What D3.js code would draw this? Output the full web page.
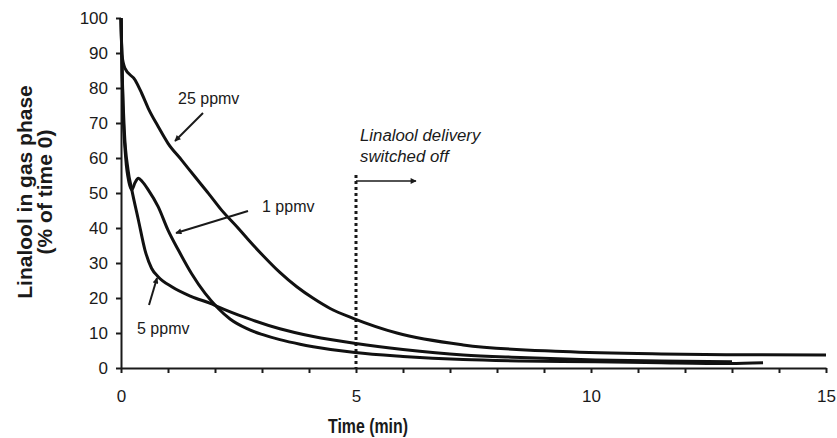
<!DOCTYPE html>
<html lang="en">
	<head>
		<meta charset="utf-8">
		<title>Linalool in gas phase</title>
		<script type="text/javascript" src="https://cdn.jsdelivr.net/npm/d3@7"></script>
		<style type="text/css">
			body { margin: 0; background: white; }
			text { font-family: "Liberation Sans", Arial, sans-serif; fill: #1a1a1a; }
			.tick text { font-size: 17px; }
			.axis path, .axis line { stroke: #1a1a1a; stroke-width: 2px; }
			.title { font-weight: bold; font-size: 21px; }
			.note { font-size: 16px; }
		</style>
	</head>
	<body>
		<div id="chart"></div>
		<script type="text/javascript">
			//Data: time (min) and % of time 0
			var t1  = [0, 0.04, 0.1, 0.17, 0.23, 0.3, 0.37, 0.45, 0.58, 0.79, 1.0, 1.22, 1.5, 1.79, 2.07, 2.32, 2.67, 3.0, 3.38, 3.81, 4.09, 4.98, 6, 7.28, 8.5, 10.1, 11.5, 12.96, 13.66];
			var v1  = [100, 75, 60, 53, 50.9, 53, 54.2, 53.3, 50.9, 46.1, 39.4, 33.7, 27, 21.3, 17.0, 14.0, 11.3, 9.6, 8.1, 6.8, 6.1, 4.4, 3.3, 2.4, 2.0, 1.8, 1.5, 1.3, 1.5];

			var t5  = [0, 0.03, 0.07, 0.15, 0.23, 0.37, 0.51, 0.65, 0.79, 1.08, 1.5, 1.93, 2.03, 2.67, 3.38, 4.09, 5.0, 6, 7.28, 8.5, 10.1, 11.5, 13.0];
			var v5  = [100, 82, 68, 56.6, 50.9, 42.3, 33.7, 28.5, 26.1, 23.2, 20.4, 18.3, 17.7, 14.3, 11.2, 9.0, 7.0, 5.3, 3.7, 3.0, 2.3, 2.0, 1.8];

			var t25 = [0, 0.02, 0.085, 0.3, 0.44, 0.58, 0.79, 1.0, 1.29, 1.57, 1.86, 2.14, 2.49, 2.7, 3.03, 3.38, 3.74, 4.09, 4.45, 4.94, 5.87, 7.28, 9.4, 11.5, 13, 15];
			var v25 = [100, 89.5, 85.6, 82.3, 78.5, 74.2, 69, 64.2, 59.4, 54.7, 49.9, 45.1, 40.0, 36.8, 32, 27.3, 23.2, 19.9, 17, 14.2, 10, 6.6, 4.7, 4.0, 3.8, 3.7];

			var xTicks = [0, 5, 10, 15];
			var yTicks = [0, 10, 20, 30, 40, 50, 60, 70, 80, 90, 100];
			var switchOff = 5;

			//Width and height
			var w = 837;
			var h = 438;

			var svg = d3.select("#chart")
				.append("svg")
				.attr("width", w)
				.attr("height", h);

			var x = d3.scaleLinear().domain([0, 15]).range([121, 826]);
			var y = d3.scaleLinear().domain([0, 100]).range([368, 18]);

			svg.append("defs").append("marker")
				.attr("id", "arrow")
				.attr("viewBox", "0 0 10 10")
				.attr("refX", 9).attr("refY", 5)
				.attr("markerWidth", 8).attr("markerHeight", 6)
				.attr("markerUnits", "userSpaceOnUse")
				.attr("orient", "auto")
				.append("path")
				.attr("d", "M0,0 L10,5 L0,10 z")
				.style("fill", "#1a1a1a");

			//Axes
			svg.append("g")
				.attr("class", "axis")
				.attr("transform", "translate(0," + y(0) + ")")
				.call(d3.axisBottom(x).ticks(15).tickSize(5).tickSizeOuter(0)
					.tickFormat(function(d) { return xTicks.indexOf(d) >= 0 ? d : ""; }))
				.call(function(g) { g.selectAll(".tick text").attr("y", 22).attr("dy", "0.71em"); });

			svg.append("g")
				.attr("class", "axis")
				.attr("transform", "translate(" + x(0) + ",0)")
				.call(d3.axisLeft(y).tickValues(yTicks).tickSize(5).tickSizeOuter(0))
				.call(function(g) { g.selectAll(".tick text").attr("x", -13); });

			//Switch-off marker
			svg.append("line")
				.attr("x1", x(switchOff)).attr("x2", x(switchOff))
				.attr("y1", 175).attr("y2", y(0))
				.style("stroke", "#1a1a1a")
				.style("stroke-width", 3)
				.style("stroke-dasharray", "3,3");

			svg.append("line")
				.attr("x1", x(switchOff)).attr("x2", 416)
				.attr("y1", 181).attr("y2", 181)
				.style("stroke", "#1a1a1a")
				.style("stroke-width", 1.3)
				.attr("marker-end", "url(#arrow)");

			svg.append("text").attr("class", "note")
				.attr("x", 360).attr("y", 141)
				.style("font-style", "italic")
				.style("font-size", "16.8px")
				.text("Linalool delivery");
			svg.append("text").attr("class", "note")
				.attr("x", 360).attr("y", 162)
				.style("font-style", "italic")
				.style("font-size", "16.8px")
				.text("switched off");

			//Curves
			var line = d3.line()
				.x(function(d) { return x(d[0]); })
				.y(function(d) { return y(d[1]); })
				.curve(d3.curveMonotoneX);

			[[t1, v1], [t5, v5], [t25, v25]].forEach(function(s) {
				svg.append("path")
					.datum(d3.zip(s[0], s[1]))
					.attr("d", line)
					.style("fill", "none")
					.style("stroke", "#111")
					.style("stroke-width", 3)
					.style("stroke-linejoin", "round");
			});

			//Labels with arrows
			var notes = [
				{ label: "25 ppmv", tx: 178, ty: 104, a: [203, 113, 175, 141] },
				{ label: "1 ppmv", tx: 262, ty: 212, a: [248, 211, 176, 233] },
				{ label: "5 ppmv", tx: 137, ty: 334, a: [149, 305, 157, 278] }
			];
			notes.forEach(function(n) {
				svg.append("text").attr("class", "note")
					.attr("x", n.tx).attr("y", n.ty)
					.text(n.label);
				svg.append("line")
					.attr("x1", n.a[0]).attr("y1", n.a[1])
					.attr("x2", n.a[2]).attr("y2", n.a[3])
					.style("stroke", "#1a1a1a")
					.style("stroke-width", 2)
					.attr("marker-end", "url(#arrow)");
			});

			//Axis titles
			svg.append("text").attr("class", "title")
				.attr("x", 368).attr("y", 433)
				.attr("text-anchor", "middle")
				.style("font-size", "21px")
				.attr("textLength", 80)
				.attr("lengthAdjust", "spacingAndGlyphs")
				.text("Time (min)");

			var yt = svg.append("text").attr("class", "title")
				.attr("transform", "translate(32,192) rotate(-90)")
				.attr("text-anchor", "middle");
			yt.append("tspan").attr("x", 0).attr("dy", 0).text("Linalool in gas phase");
			yt.append("tspan").attr("x", 0).attr("dy", 20).text("(% of time 0)");
		</script>
	</body>
</html>
